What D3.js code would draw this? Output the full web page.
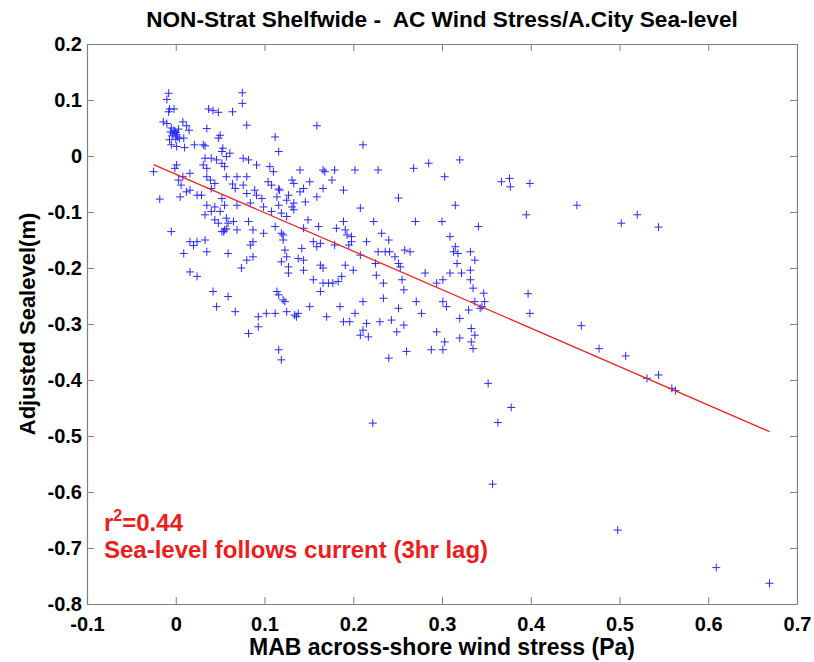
<!DOCTYPE html>
<html>
<head>
<meta charset="utf-8">
<script src="https://cdn.jsdelivr.net/npm/d3@7"></script>
<style>
  body { margin: 0; background: #fff; }
  text { font-family: "Liberation Sans", Arial, sans-serif; font-weight: bold; }
</style>
</head>
<body>
<div id="chart"></div>
<script>
// 軸の目盛り
const xTicks = [-0.1, 0, 0.1, 0.2, 0.3, 0.4, 0.5, 0.6, 0.7];
const xTickLabels = ['-0.1', '0', '0.1', '0.2', '0.3', '0.4', '0.5', '0.6', '0.7'];
const yTicks = [0.2, 0.1, 0, -0.1, -0.2, -0.3, -0.4, -0.5, -0.6, -0.7, -0.8];
const yTickLabels = ['0.2', '0.1', '0', '-0.1', '-0.2', '-0.3', '-0.4', '-0.5', '-0.6', '-0.7', '-0.8'];

// 回帰直線
const fitSlope = -0.687;
const fitIntercept = -0.0325;

// [風応力 (Pa), 海面 (m)]
const obs = [
  [-0.008,0.112],[-0.010,0.101],[-0.007,0.084],[-0.002,0.084],[-0.008,0.079],[-0.014,0.061],[-0.010,0.058],
  [-0.005,0.050],[-0.002,0.046],[0.000,0.042],[-0.003,0.040],[0.001,0.038],[-0.004,0.036],[0.002,0.034],
  [-0.001,0.044],[0.003,0.048],[-0.006,0.043],[-0.007,0.029],[0.000,0.030],[0.004,0.031],[0.009,0.032],
  [-0.005,0.020],[0.001,0.017],[0.010,0.015],[0.008,0.061],[0.012,0.054],[0.015,0.046],
  [0.021,0.020],[0.031,0.020],[0.033,0.018],[0.035,0.049],[0.037,0.084],[0.042,0.081],[0.048,0.078],
  [0.064,0.079],[0.075,0.113],[0.075,0.094],[0.080,0.055],[0.050,0.037],[0.048,0.032],
  [0.053,0.014],[0.052,0.008],[0.061,0.005],[0.057,-0.001],[0.046,-0.007],[0.040,-0.004],
  [0.033,-0.004],[0.031,-0.016],[0.035,-0.022],[0.052,-0.013],[0.055,-0.019],
  [0.076,-0.004],[0.082,-0.007],[0.091,-0.016],[0.112,0.034],[0.116,0.008],[0.106,-0.019],
  [0.001,-0.016],[-0.001,-0.022],[-0.025,-0.028],[0.035,-0.037],[0.039,-0.043],
  [0.003,-0.043],[0.008,-0.037],[0.016,-0.031],[0.057,-0.037],[0.069,-0.037],[0.080,-0.037],
  [0.044,-0.049],[0.064,-0.050],[0.089,-0.061],[0.104,-0.046],[0.116,-0.059],[-0.018,-0.077],
  [0.006,-0.052],[0.005,-0.073],[0.012,-0.064],[0.016,-0.061],[0.024,-0.070],[0.029,-0.070],[0.035,-0.088],
  [0.067,-0.058],[0.076,-0.052],[0.080,-0.067],[0.091,-0.070],[0.097,-0.076],[0.108,-0.052],
  [0.114,-0.073],[0.125,-0.079],[0.069,-0.088],[0.084,-0.084],[0.099,-0.091],[0.108,-0.099],
  [0.119,-0.102],[0.044,-0.091],[0.055,-0.088],[0.052,-0.076],[0.040,-0.058],
  [0.033,-0.105],[0.040,-0.099],[0.044,-0.114],[0.050,-0.099],[0.057,-0.111],[0.048,-0.120],
  [0.059,-0.120],[0.055,-0.132],[0.057,-0.130],[0.054,-0.135],[0.052,-0.135],[0.065,-0.117],
  [0.069,-0.132],[0.082,-0.117],[0.087,-0.132],[0.099,-0.138],[0.112,-0.126],[0.119,-0.138],
  [0.125,-0.108],[-0.005,-0.135],[0.016,-0.153],[0.024,-0.153],[0.020,-0.160],[0.033,-0.150],
  [0.035,-0.171],[0.009,-0.174],[0.059,-0.174],[0.087,-0.153],[0.084,-0.159],[0.080,-0.186],
  [0.087,-0.180],[0.074,-0.200],[0.121,-0.150],[0.123,-0.168],[0.125,-0.180],[0.119,-0.189],
  [0.127,-0.198],[0.016,-0.207],[0.024,-0.215],[0.042,-0.242],[0.059,-0.251],[0.046,-0.269],
  [0.067,-0.278],[0.093,-0.287],[0.102,-0.281],[0.112,-0.281],[0.093,-0.305],[0.082,-0.317],
  [0.114,-0.242],[0.116,-0.248],[0.121,-0.257],[0.125,-0.278],
  [0.159,0.054],[0.211,0.020],[0.320,-0.007],[0.285,-0.013],[0.268,-0.022],[0.303,-0.037],
  [0.228,-0.025],[0.202,-0.025],[0.179,-0.025],[0.166,-0.025],[0.168,-0.028],[0.140,-0.025],
  [0.110,-0.028],[0.131,-0.043],[0.133,-0.049],[0.151,-0.046],[0.176,-0.043],[0.117,-0.061],
  [0.144,-0.058],[0.140,-0.064],[0.166,-0.058],[0.189,-0.061],[0.127,-0.070],[0.133,-0.084],
  [0.146,-0.082],[0.159,-0.073],[0.251,-0.075],[0.315,-0.088],[0.116,-0.088],[0.131,-0.091],
  [0.133,-0.096],[0.208,-0.093],[0.149,-0.114],[0.144,-0.129],[0.161,-0.126],[0.121,-0.141],
  [0.181,-0.129],[0.189,-0.117],[0.191,-0.132],[0.193,-0.141],[0.198,-0.144],[0.198,-0.153],
  [0.195,-0.159],[0.223,-0.117],[0.232,-0.138],[0.215,-0.153],[0.240,-0.150],[0.270,-0.117],
  [0.300,-0.117],[0.341,-0.126],[0.309,-0.144],[0.155,-0.153],[0.163,-0.156],[0.159,-0.162],
  [0.179,-0.159],[0.142,-0.165],[0.138,-0.183],[0.144,-0.186],[0.208,-0.177],[0.225,-0.192],
  [0.228,-0.171],[0.236,-0.171],[0.241,-0.171],[0.247,-0.180],[0.258,-0.168],[0.264,-0.171],
  [0.251,-0.192],[0.253,-0.198],[0.144,-0.204],[0.127,-0.209],[0.163,-0.195],[0.166,-0.200],
  [0.191,-0.195],[0.200,-0.204],[0.187,-0.215],[0.155,-0.221],[0.166,-0.227],[0.172,-0.227],
  [0.177,-0.227],[0.183,-0.224],[0.226,-0.213],[0.234,-0.227],[0.255,-0.221],[0.257,-0.239],
  [0.281,-0.209],[0.315,-0.162],[0.318,-0.174],[0.332,-0.171],[0.337,-0.186],[0.317,-0.192],
  [0.309,-0.209],[0.322,-0.209],[0.332,-0.204],[0.294,-0.227],[0.301,-0.221],[0.332,-0.221],
  [0.335,-0.236],[0.347,-0.245],[0.337,-0.260],[0.348,-0.260],[0.345,-0.269],[0.313,-0.171],
  [0.123,-0.260],[0.163,-0.242],[0.151,-0.269],[0.138,-0.281],[0.136,-0.287],[0.134,-0.284],
  [0.170,-0.287],[0.185,-0.269],[0.211,-0.260],[0.234,-0.254],[0.251,-0.272],[0.271,-0.260],
  [0.277,-0.281],[0.301,-0.260],[0.305,-0.269],[0.320,-0.290],[0.330,-0.275],[0.343,-0.272],
  [0.189,-0.296],[0.196,-0.296],[0.202,-0.281],[0.215,-0.299],[0.230,-0.296],[0.243,-0.293],
  [0.211,-0.311],[0.217,-0.323],[0.208,-0.320],[0.249,-0.314],[0.257,-0.302],
  [0.294,-0.314],[0.303,-0.332],[0.301,-0.346],[0.288,-0.346],[0.320,-0.325],[0.333,-0.308],
  [0.337,-0.320],[0.333,-0.332],[0.335,-0.344],[0.260,-0.349],[0.240,-0.361],[0.116,-0.346],
  [0.119,-0.364],
  [0.367,-0.046],[0.376,-0.040],[0.377,-0.055],[0.399,-0.049],[0.452,-0.088],[0.395,-0.105],
  [0.502,-0.120],[0.520,-0.105],[0.544,-0.127],[0.397,-0.246],[0.399,-0.281],[0.457,-0.303],
  [0.477,-0.344],[0.507,-0.357],[0.531,-0.397],[0.544,-0.391],[0.559,-0.415],[0.563,-0.419],
  [0.352,-0.406],[0.378,-0.449],[0.363,-0.476],[0.222,-0.477],[0.357,-0.586],[0.498,-0.668],
  [0.609,-0.735],[0.669,-0.763]
];

// グラフの大きさを設定
const width = 814;
const height = 662;
const margin = {top: 44, right: 17, bottom: 58, left: 87};
const innerWidth = width - margin.left - margin.right;
const innerHeight = height - margin.top - margin.bottom;
const axisColor = '#7f7f7f';

const svg = d3.select('#chart')
  .append('svg')
  .attr('width', width)
  .attr('height', height);

const g = svg.append('g')
  .attr('transform', `translate(${margin.left},${margin.top})`);

const x = d3.scaleLinear().domain([-0.1, 0.7]).range([0, innerWidth]);
const y = d3.scaleLinear().domain([-0.8, 0.2]).range([innerHeight, 0]);

// 軸 (目盛りは内向き、上と右にも)
function styleAxis(sel) {
  sel.selectAll('path, line').attr('stroke', axisColor);
  sel.selectAll('text').attr('fill', '#000').style('font-size', '20px');
}

g.append('g')
  .attr('transform', `translate(0,${innerHeight})`)
  .call(d3.axisBottom(x).tickValues(xTicks).tickFormat((d, i) => xTickLabels[i])
    .tickSizeInner(-7).tickSizeOuter(0).tickPadding(13))
  .call(styleAxis);

g.append('g')
  .call(d3.axisTop(x).tickValues(xTicks).tickFormat('').tickSizeInner(-7).tickSizeOuter(0))
  .call(styleAxis);

g.append('g')
  .call(d3.axisLeft(y).tickValues(yTicks).tickFormat((d, i) => yTickLabels[i])
    .tickSizeInner(-7).tickSizeOuter(0).tickPadding(5))
  .call(styleAxis);

g.append('g')
  .attr('transform', `translate(${innerWidth},0)`)
  .call(d3.axisRight(y).tickValues(yTicks).tickFormat('').tickSizeInner(-7).tickSizeOuter(0))
  .call(styleAxis);

g.selectAll('.domain').attr('stroke-width', 1.2);

// 散布図 (+ マーカー)
g.selectAll('.pt')
  .data(obs)
  .enter()
  .append('path')
  .attr('class', 'pt')
  .attr('d', 'M-4,0H4M0,-4V4')
  .attr('transform', d => `translate(${x(d[0])},${y(d[1])})`)
  .attr('stroke', '#2a2aff')
  .attr('stroke-width', 1)
  .attr('fill', 'none');

// 回帰直線
const xr = d3.extent(obs, d => d[0]);
g.append('line')
  .attr('x1', x(xr[0]))
  .attr('y1', y(fitIntercept + fitSlope * xr[0]))
  .attr('x2', x(xr[1]))
  .attr('y2', y(fitIntercept + fitSlope * xr[1]))
  .attr('stroke', '#ee2222')
  .attr('stroke-width', 1.3);

// タイトルとラベル
svg.append('text')
  .attr('x', margin.left + innerWidth / 2)
  .attr('y', 27)
  .attr('text-anchor', 'middle')
  .style('font-size', '22.6px')
  .text('NON-Strat Shelfwide -\u00a0 AC Wind Stress/A.City Sea-level');

svg.append('text')
  .attr('x', margin.left + innerWidth / 2)
  .attr('y', 655)
  .attr('text-anchor', 'middle')
  .style('font-size', '23px')
  .text('MAB across-shore wind stress (Pa)');

svg.append('text')
  .attr('transform', `translate(35,${margin.top + innerHeight / 2}) rotate(-90)`)
  .attr('text-anchor', 'middle')
  .style('font-size', '22px')
  .text('Adjusted Sealevel(m)');

const note = g.append('g').attr('fill', '#ee1c1c').style('font-size', '24px');
const r2 = note.append('text').attr('x', 17).attr('y', 487);
r2.append('tspan').text('r');
r2.append('tspan').attr('dy', -10).style('font-size', '16px').text('2');
r2.append('tspan').attr('dy', 10).text('=0.44');
note.append('text').attr('x', 17).attr('y', 514).text('Sea-level follows current (3hr lag)');
</script>
</body>
</html>
